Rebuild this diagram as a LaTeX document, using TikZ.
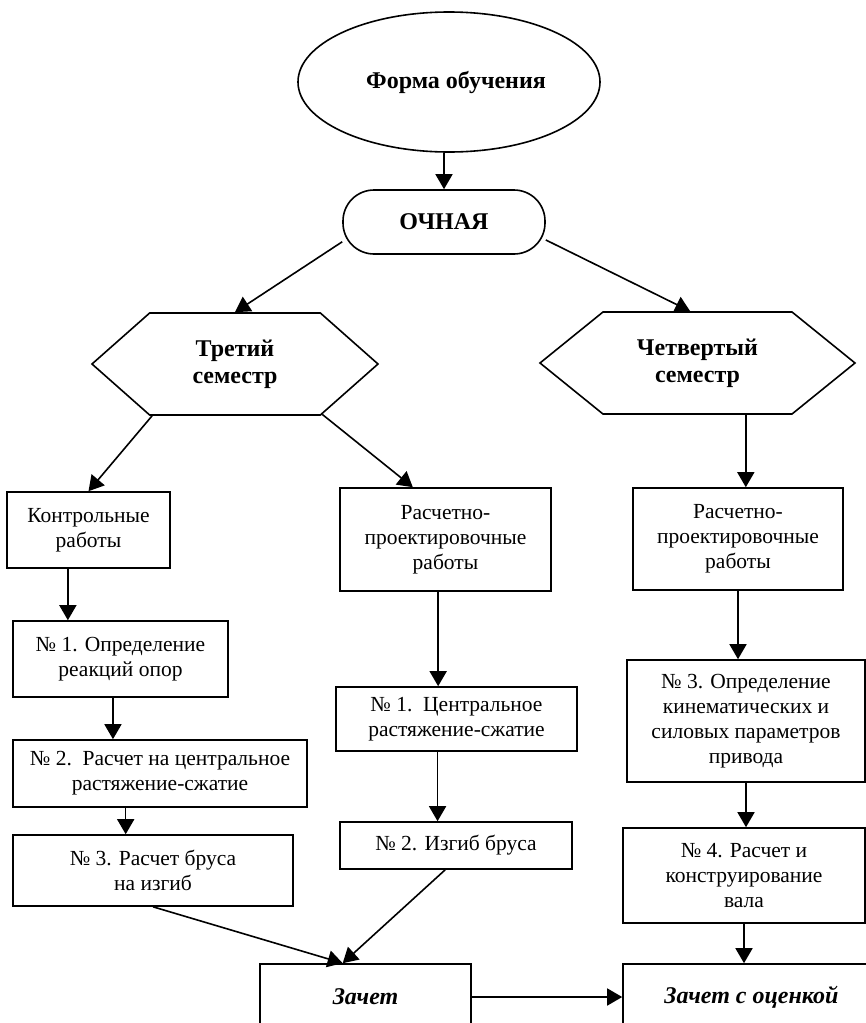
\documentclass[tikz,border=0pt]{standalone}
\usepackage{fontspec}
\setmainfont{Liberation Serif}
\usetikzlibrary{shapes,arrows.meta}

\begin{document}
\begin{tikzpicture}[x=1pt,y=-1pt]%
\tikzstyle{mybox} = [draw, rectangle, line width=1.6pt, inner sep=0pt,
    align=center, font=\fontsize{21.5}{25}\selectfont]
\tikzstyle{myhex} = [draw, signal, signal to=east and west, line width=1.6pt,
    inner sep=0pt, align=center, font=\fontsize{24}{27}\selectfont\bfseries]
\tikzstyle{mytitle} = [font=\fontsize{24}{27}\selectfont\bfseries]
\tikzstyle{myend} = [mybox, font=\fontsize{24}{27}\selectfont\bfseries\itshape]
\tikzstyle{myarrow} = [-{Triangle[length=15pt,width=17pt]}, line width=1.6pt]

\useasboundingbox (0,0) rectangle (866,1023);

\node [draw, ellipse, line width=1.6pt, minimum width=302pt, minimum height=140pt,
    mytitle] (forma) at (449,82) {\raisebox{4pt}{\hspace*{14pt}Форма обучения}};
\node [draw, rectangle, rounded corners=31pt, line width=1.6pt, minimum width=202pt,
    minimum height=64pt, mytitle] (ochn) at (444,222) {ОЧНАЯ};

\node [myhex, signal pointer angle=83, minimum width=286pt, minimum height=102pt]
    (sem3) at (235,364) {Третий\\семестр};
\node [myhex, signal pointer angle=78, minimum width=315pt, minimum height=102pt]
    (sem4) at (697.5,363) {Четвертый\\семестр};

\node [mybox, minimum width=163pt, minimum height=76pt] (kontr) at (88.5,530)
    {Контрольные\\работы};
\node [mybox, minimum width=215pt, minimum height=76pt] (kr1) at (120.5,659)
    {№ 1. Определение\\реакций опор};
\node [mybox, minimum width=294pt, minimum height=67pt] (kr2) at (160,773.5)
    {№ 2.\ \ Расчет на центральное\\растяжение-сжатие};
\node [mybox, minimum width=280pt, minimum height=71pt] (kr3) at (153,870.5)
    {№ 3. Расчет бруса\\на изгиб};

\node [mybox, minimum width=211pt, minimum height=103pt] (rpr3) at (445.5,539.5)
    {Расчетно-\\проектировочные\\работы};
\node [mybox, minimum width=241pt, minimum height=64pt] (rp1) at (456.5,719)
    {№ 1.\ \ Центральное\\растяжение-сжатие};
\node [mybox, minimum width=232pt, minimum height=47pt] (rp2) at (456,845.5)
    {№ 2. Изгиб бруса};

\node [mybox, minimum width=210pt, minimum height=102pt] (rpr4) at (738,539)
    {Расчетно-\\проектировочные\\работы};
\node [mybox, minimum width=238pt, minimum height=122pt] (rp3) at (746,721)
    {№ 3. Определение\\кинематических и\\силовых параметров\\привода};
\node [mybox, minimum width=242pt, minimum height=95pt] (rp4) at (744,875.5)
    {№ 4. Расчет и\\конструирование\\вала};

\node [myend, minimum width=211pt, minimum height=66pt] (zach) at (365.5,997) {Зачет};
\node [myend, minimum width=257pt, minimum height=66pt] (zachoc) at (751.5,997)
    {Зачет с оценкой};

\draw [myarrow] (forma.south -| ochn.north) -- (ochn.north);
\draw [myarrow] (ochn.191) -- (sem3.north);
\draw [myarrow] (ochn.-10) -- (sem4.98);
\draw [myarrow] (sem3.-148) -- (kontr.north);
\draw [myarrow] (sem3.-30) -- (rpr3.122);
\draw [myarrow] (sem4.-47) -- (sem4.-47 |- rpr4.north);
\draw [myarrow] (kontr.-118) -- (kontr.-118 |- kr1.north);
\draw [myarrow] (kr1.-101) -- (kr1.-101 |- kr2.north);
\draw [myarrow] (kr2.-135) -- (kr2.-135 |- kr3.north);
\draw [myarrow] (kr3.south) -- (zach.124);
\draw [myarrow] (rpr3.-98) -- (rpr3.-98 |- rp1.north);
\draw [myarrow] (rp1.-120) -- (rp1.-120 |- rp2.north);
\draw [myarrow] (rp2.-114) -- (zach.124);
\draw [myarrow] (rpr4.south) -- (rpr4.south |- rp3.north);
\draw [myarrow] (rp3.south) -- (rp3.south |- rp4.north);
\draw [myarrow] (rp4.south) -- (rp4.south |- zachoc.north);
\draw [myarrow] (zach.east) -- (zachoc.west);
\end{tikzpicture}
\end{document}
